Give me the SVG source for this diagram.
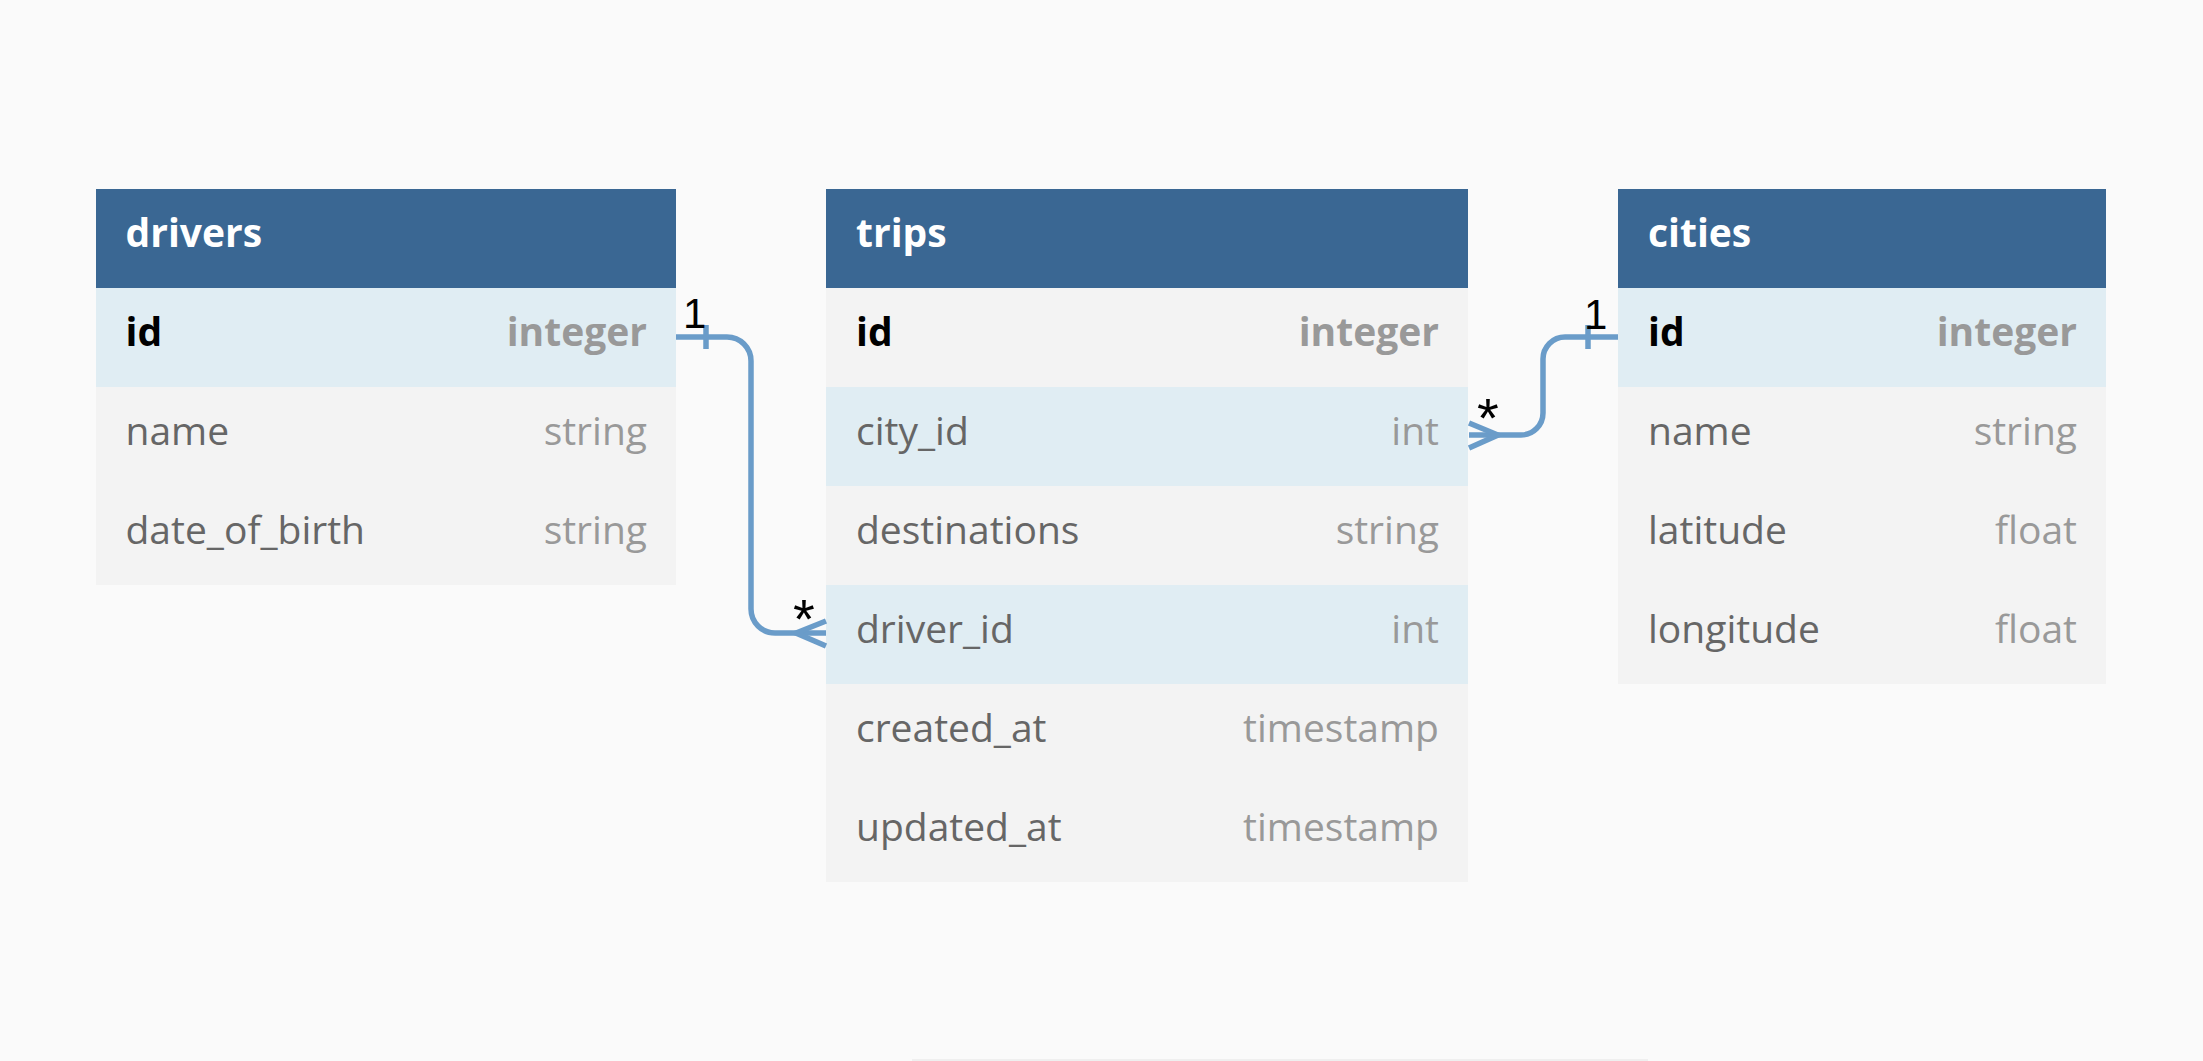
<svg xmlns="http://www.w3.org/2000/svg" width="2203" height="1061" viewBox="0 0 2203 1061">
<style>
.hdr{fill:#3a6793}
.rk{fill:#e0edf3}
.rn{fill:#f3f3f3}
.t{font-family:"Open Sans","Noto Sans","DejaVu Sans",sans-serif;font-size:39px}
.title{fill:#ffffff;font-weight:700}
.kn{fill:#000000;font-weight:700}
.kt{fill:#999999;font-weight:700;text-anchor:end}
.fn{fill:#666666}
.ft{fill:#999999;text-anchor:end}
.con{fill:none;stroke:#6a9cc9;stroke-width:5.5}
.lbl{font-family:"Liberation Sans",Arial,sans-serif;fill:#000000}
</style>
<rect width="2203" height="1061" fill="#fafafa"/>
<rect x="912" y="1059" width="736" height="2" fill="#efefef"/>

<g id="drivers">
<rect class="hdr" x="96" y="189" width="580" height="99"/>
<rect class="rk" x="96" y="288" width="580" height="99"/>
<rect class="rn" x="96" y="387" width="580" height="198"/>
<text class="t title" x="125.5" y="247">drivers</text>
<text class="t kn" x="125.5" y="346">id</text>
<text class="t kt" x="647" y="346">integer</text>
<text class="t fn" x="125.5" y="445">name</text>
<text class="t ft" x="647" y="445">string</text>
<text class="t fn" x="125.5" y="544">date_of_birth</text>
<text class="t ft" x="647" y="544">string</text>
</g>

<g id="trips">
<rect class="hdr" x="826" y="189" width="642" height="99"/>
<rect class="rn" x="826" y="288" width="642" height="594"/>
<rect class="rk" x="826" y="387" width="642" height="99"/>
<rect class="rk" x="826" y="585" width="642" height="99"/>
<text class="t title" x="856" y="247">trips</text>
<text class="t kn" x="856" y="346">id</text>
<text class="t kt" x="1439" y="346">integer</text>
<text class="t fn" x="856" y="445">city_id</text>
<text class="t ft" x="1439" y="445">int</text>
<text class="t fn" x="856" y="544">destinations</text>
<text class="t ft" x="1439" y="544">string</text>
<text class="t fn" x="856" y="643">driver_id</text>
<text class="t ft" x="1439" y="643">int</text>
<text class="t fn" x="856" y="742">created_at</text>
<text class="t ft" x="1439" y="742">timestamp</text>
<text class="t fn" x="856" y="841">updated_at</text>
<text class="t ft" x="1439" y="841">timestamp</text>
</g>

<g id="cities">
<rect class="hdr" x="1618" y="189" width="488" height="99"/>
<rect class="rk" x="1618" y="288" width="488" height="99"/>
<rect class="rn" x="1618" y="387" width="488" height="297"/>
<text class="t title" x="1648" y="247">cities</text>
<text class="t kn" x="1648" y="346">id</text>
<text class="t kt" x="2077" y="346">integer</text>
<text class="t fn" x="1648" y="445">name</text>
<text class="t ft" x="2077" y="445">string</text>
<text class="t fn" x="1648" y="544">latitude</text>
<text class="t ft" x="2077" y="544">float</text>
<text class="t fn" x="1648" y="643">longitude</text>
<text class="t ft" x="2077" y="643">float</text>
</g>

<g id="connectors">
<path class="con" d="M676,337 H727 A24,24 0 0 1 751,361 V609 A24,24 0 0 0 775,633 H826"/>
<path class="con" d="M706,325 V349"/>
<path class="con" d="M826,621 L796,633 L826,646"/>
<text class="lbl" x="683" y="328" font-size="42">1</text>
<text class="lbl" x="793" y="638" font-size="56">*</text>

<path class="con" d="M1618,337 H1565 A22,22 0 0 0 1543,359 V413 A22,22 0 0 1 1521,435 H1469"/>
<path class="con" d="M1588,325 V349"/>
<path class="con" d="M1469,423 L1498,435 L1469,448"/>
<text class="lbl" x="1584" y="329" font-size="42">1</text>
<text class="lbl" x="1477" y="437" font-size="56">*</text>
</g>
</svg>
